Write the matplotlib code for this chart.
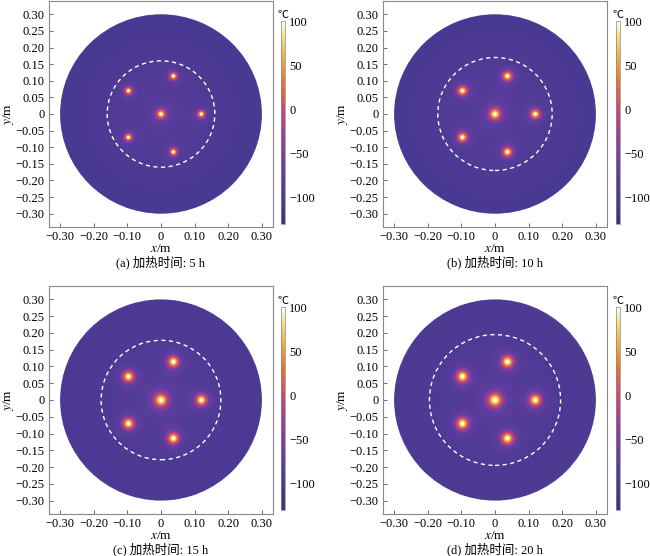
import numpy as np
import matplotlib
matplotlib.use("Agg")
import matplotlib.pyplot as plt
from matplotlib.colors import LinearSegmentedColormap
from matplotlib.patches import Circle

plt.rcParams['font.family'] = ['Liberation Serif', 'Noto Sans CJK SC']
plt.rcParams['mathtext.fontset'] = 'stix'
plt.rcParams['axes.unicode_minus'] = True

# heater positions (m)
heat_x = [0.0, 0.12, 0.037, -0.097, -0.097, 0.037]
heat_y = [0.0, 0.0, 0.114, 0.070, -0.070, -0.114]

labels = ["(a) 加热时间: 5 h", "(b) 加热时间: 10 h", "(c) 加热时间: 15 h", "(d) 加热时间: 20 h"]
ring_r = [0.160, 0.170, 0.178, 0.195]      # dashed front radius
glow_w = [0.0080, 0.0100, 0.0112, 0.0120]  # width of warm halo
glow_amp = [150, 155, 160, 160]
halo_amp = [25, 30, 35, 38]
bg_out = [-106, -105, -104, -103]
bg_in = [-86, -87, -89, -91]

R = 0.30
vmin, vmax = -130, 100

cmap = LinearSegmentedColormap.from_list("tmp", [
    (0.00, "#3a3286"), (0.13, "#4e3b95"), (0.25, "#613da0"),
    (0.40, "#8e3f9c"), (0.56, "#cf4670"), (0.69, "#e8703a"),
    (0.80, "#eba537"), (0.91, "#f3d87a"), (1.00, "#fffff2")])

# pixel boxes: left, top, width, height
ax_box = [(49, 1, 224, 226), (383, 1, 224, 226), (49, 286, 224, 228), (383, 286, 224, 228)]
cb_box = [(281, 21, 4, 203), (616, 21, 4, 203), (281, 307, 4, 203), (616, 307, 4, 203)]

W, H = 650, 556
fig = plt.figure(figsize=(W / 100, H / 100), dpi=100)

n = 500
g = np.linspace(-R, R, n)
X, Y = np.meshgrid(g, g)
Rr = np.sqrt(X**2 + Y**2)

for i in range(4):
    l, t, w, h = ax_box[i]
    ax = fig.add_axes([l / W, 1 - (t + h) / H, w / W, h / H])
    T = bg_out[i] + (bg_in[i] - bg_out[i]) * np.exp(-(Rr / 0.15)**2)
    for hx, hy in zip(heat_x, heat_y):
        d2 = (X - hx)**2 + (Y - hy)**2
        scale = 1.15 if hx == 0 and hy == 0 else 1.0
        s = glow_w[i] * scale
        T = T + glow_amp[i] * np.exp(-d2 / (2 * s**2))
        T = T + halo_amp[i] * np.exp(-d2 / (2 * (2.2 * s)**2))
        T = T + 150 * np.exp(-d2 / (2 * 0.0022**2))
    im = ax.imshow(T, extent=[-R, R, -R, R], origin='lower', cmap=cmap,
                   vmin=vmin, vmax=vmax, interpolation='bilinear')
    clip = Circle((0, 0), R, transform=ax.transData)
    im.set_clip_path(clip)
    ax.add_patch(Circle((0, 0), ring_r[i], fill=False, ec='white', lw=1.0,
                        ls=(0, (3, 2.5))))
    ax.set_xlim(-0.333, 0.333)
    ax.set_ylim(-0.34, 0.34)
    ax.set_aspect('auto')
    ax.set_xticks([-0.3, -0.2, -0.1, 0, 0.1, 0.2, 0.3])
    ax.set_xticklabels(["\u22120.30", "\u22120.20", "\u22120.10", "0", "0.10", "0.20", "0.30"])
    yt = [-0.3, -0.25, -0.2, -0.15, -0.1, -0.05, 0, 0.05, 0.1, 0.15, 0.2, 0.25, 0.3]
    ax.set_yticks(yt)
    ax.set_yticklabels(["0" if v == 0 else ("%.2f" % v).replace("-", "\u2212") for v in yt])
    ax.tick_params(direction='in', length=3, width=0.6, labelsize=9, color='#555555', pad=3)
    for sp in ax.spines.values():
        sp.set_color('#888888')
        sp.set_linewidth(0.8)
    ax.set_xlabel("$x$/m", fontsize=9.5, labelpad=0)
    ax.set_ylabel("$y$/m", fontsize=9.5, labelpad=0)
    ax.text(0.5, -0.155, labels[i], transform=ax.transAxes, ha='center', va='center', fontsize=9)

    cl, ct, cw, chh = cb_box[i]
    cax = fig.add_axes([cl / W, 1 - (ct + chh) / H, cw / W, chh / H])
    cb = fig.colorbar(im, cax=cax, ticks=[-100, -50, 0, 50, 100])
    cb.ax.set_yticklabels(["\u2212100", "\u221250", "0", "50", "100"])
    cb.ax.tick_params(length=0, labelsize=9, pad=3)
    cb.outline.set_linewidth(0.5)
    cb.outline.set_edgecolor('#888888')
    cb.ax.set_title("\u2103", fontsize=8, pad=2, family=['Noto Sans CJK SC', 'DejaVu Sans'])

fig.savefig("out.png", dpi=100)
